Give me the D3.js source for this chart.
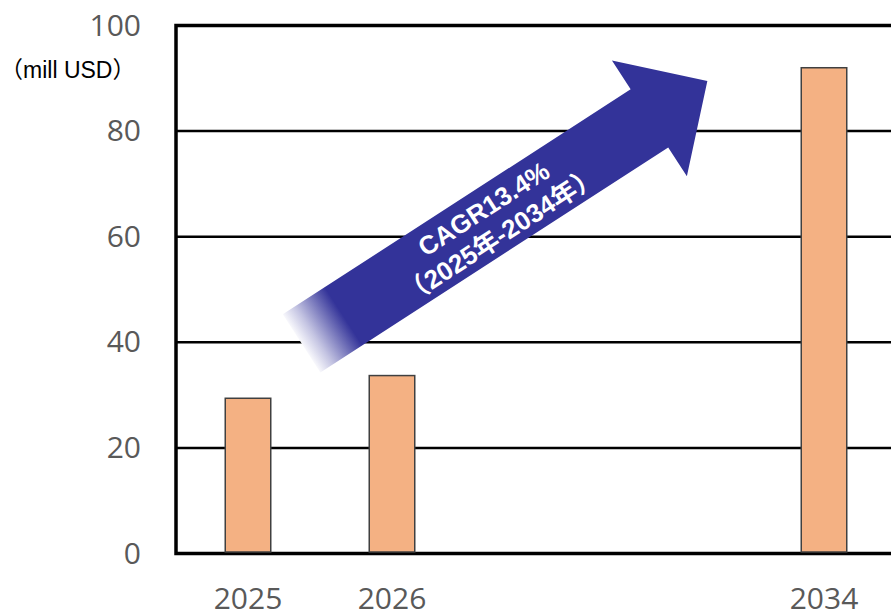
<!DOCTYPE html>
<html>
<head>
<meta charset="utf-8">
<script src="https://cdn.jsdelivr.net/npm/d3@7"></script>
<style>
  html, body { margin: 0; padding: 0; background: #fff; }
  svg { display: block; overflow: hidden; }
</style>
</head>
<body>
<svg id="chart" width="891" height="611"></svg>
<script>
// data
const slots = ['2025', '2026', 'gap1', 'gap2', '2034'];
const barYears = ['2025', '2026', '2034'];
const marketSize = [29.4, 33.7, 92.0];
const yTicks = [0, 20, 40, 60, 80, 100];
const unitLabel = '（mill USD）';
const cagrLines = ['CAGR13.4%', '（2025年-2034年）'];
// arrow ends as [slot index, value]
const arrowFrom = [0.872, 39.8];
const arrowTo = [3.69, 89.5];

const svg = d3.select('svg#chart'),
  margin = {left: 176, top: 25.5, bottom: 57.5};

const height = +svg.attr('height') - margin.top - margin.bottom,
  plotRight = 896;

const x = d3.scaleBand().domain(slots).range([margin.left, plotRight])
    .paddingInner(0.684).paddingOuter(0.342),
  xs = d3.scaleLinear().domain([0, slots.length]).range([margin.left, plotRight]),
  y = d3.scaleLinear().domain([0, 100]).range([margin.top + height, margin.top]);

const tickFont = '"Open Sans", "Liberation Sans", sans-serif';

// grid lines
svg.append('g')
  .selectAll('line')
  .data(yTicks.filter(d => d > 0 && d < 100))
  .enter().append('line')
  .attr('x1', margin.left).attr('x2', 891)
  .attr('y1', d => y(d)).attr('y2', d => y(d))
  .attr('stroke', '#000').attr('stroke-width', 2.5);

// frame: top, left, bottom
svg.append('path')
  .attr('d', `M891,${y(100)}H${margin.left}V${y(0)}H891`)
  .attr('fill', 'none')
  .attr('stroke', '#000')
  .attr('stroke-width', 3.5)
  .attr('stroke-linejoin', 'miter');

// bars
svg.selectAll('rect.bar')
  .data(barYears.map((k, i) => ({year: k, value: marketSize[i]})))
  .enter().append('rect')
  .classed('bar', true)
  .attr('x', d => x(d.year))
  .attr('y', d => y(d.value))
  .attr('width', x.bandwidth())
  .attr('height', d => y(0) - y(d.value) - 1.5)
  .attr('fill', '#F4B183')
  .attr('stroke', '#404040')
  .attr('stroke-width', 1.5);

// y axis labels
const yAxis = svg.append('g')
  .attr('transform', `translate(${margin.left},0)`)
  .call(d3.axisLeft(y).tickValues(yTicks).tickSize(0).tickPadding(35));
yAxis.select('.domain').remove();
yAxis.selectAll('text')
  .style('font-family', tickFont)
  .style('font-size', '30px')
  .attr('fill', '#595959');

// x axis labels (cut by the bottom edge, as in the original)
const xAxis = svg.append('g')
  .attr('transform', `translate(0,${y(0)})`)
  .call(d3.axisBottom(x).tickSize(0).tickFormat(d => d.startsWith('gap') ? '' : d));
xAxis.select('.domain').remove();
xAxis.selectAll('text')
  .attr('y', 55).attr('dy', null)
  .style('font-family', tickFont)
  .style('font-size', '30px')
  .attr('fill', '#595959');

// unit label
svg.append('text')
  .attr('x', 0).attr('y', 70)
  .attr('dominant-baseline', 'central')
  .style('font-family', '"Liberation Sans", "Noto Sans CJK JP", sans-serif')
  .style('font-size', '23px')
  .attr('fill', '#000')
  .text(unitLabel);

// CAGR arrow
const p0 = [xs(arrowFrom[0]), y(arrowFrom[1])],
  p1 = [xs(arrowTo[0]), y(arrowTo[1])],
  len = Math.hypot(p1[0] - p0[0], p1[1] - p0[1]),
  u = [(p1[0] - p0[0]) / len, (p1[1] - p0[1]) / len],
  n = [-u[1], u[0]];
const shaftW = 34.6, headL = 69, headW = 69;
const pt = (base, a, b) => [base[0] + a * u[0] + b * n[0], base[1] + a * u[1] + b * n[1]];

const grad = svg.append('defs').append('linearGradient')
  .attr('id', 'tailFade')
  .attr('gradientUnits', 'userSpaceOnUse')
  .attr('x1', p0[0]).attr('y1', p0[1])
  .attr('x2', pt(p0, 50, 0)[0]).attr('y2', pt(p0, 50, 0)[1]);
grad.append('stop').attr('offset', 0).attr('stop-color', '#f8f8fc');
grad.append('stop').attr('offset', 0.3).attr('stop-color', '#c4c4e2');
grad.append('stop').attr('offset', 1).attr('stop-color', '#333399');

const arrowPts = [
  pt(p0, 0, -shaftW),
  pt(p1, -headL, -shaftW),
  pt(p1, -headL, -headW),
  p1,
  pt(p1, -headL, headW),
  pt(p1, -headL, shaftW),
  pt(p0, 0, shaftW)
];
svg.append('path')
  .attr('d', d3.line()(arrowPts) + 'Z')
  .attr('fill', 'url(#tailFade)');

const angle = Math.atan2(u[1], u[0]) * 180 / Math.PI,
  labelAt = pt(p0, 226, 0);
svg.append('g')
  .attr('transform', `translate(${labelAt[0]},${labelAt[1]}) rotate(${angle})`)
  .selectAll('text')
  .data(cagrLines)
  .enter().append('text')
  .attr('x', 0)
  .attr('y', (d, i) => i === 0 ? -14 : 17)
  .attr('text-anchor', 'middle')
  .attr('dominant-baseline', 'central')
  .style('font-family', '"Liberation Sans", "Noto Sans CJK JP", sans-serif')
  .style('font-weight', 'bold')
  .style('font-size', '26px')
  .attr('fill', '#fff')
  .text(d => d);
</script>
</body>
</html>
